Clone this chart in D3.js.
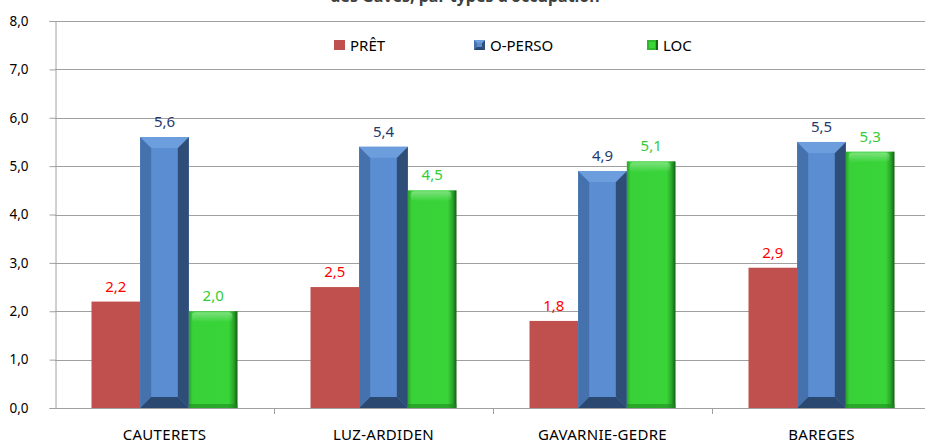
<!DOCTYPE html>
<html>
<head>
<meta charset="utf-8">
<script src="https://cdn.jsdelivr.net/npm/d3@7"></script>
<style>
  body { margin: 0; background: #fff; }
  text { font-family: "Noto Sans", "Open Sans", sans-serif; }
</style>
</head>
<body>
<script>
// data
var categories = ["CAUTERETS", "LUZ-ARDIDEN", "GAVARNIE-GEDRE", "BAREGES"];
var seriesNames = ["PRÊT", "O-PERSO", "LOC"];
var pret = [2.2, 2.5, 1.8, 2.9];
var operso = [5.6, 5.4, 4.9, 5.5];
var loc = [2.0, 4.5, 5.1, 5.3];
var yTicks = [0, 1, 2, 3, 4, 5, 6, 7, 8];

var width = 925,
    height = 444,
    x0 = 55,
    x1 = 931,
    yTop = 21,
    yBottom = 408;

var labelColors = { "PRÊT": "#ff0000", "O-PERSO": "#1f3a6e", "LOC": "#33cc33" };

var svg = d3.select("body").append("svg")
    .attr("width", width)
    .attr("height", height);

var defs = svg.append("defs");

// green bar shading
var gH = defs.append("linearGradient").attr("id", "greenH").attr("x1", 0).attr("x2", 1).attr("y1", 0).attr("y2", 0);
gH.append("stop").attr("offset", "0%").attr("stop-color", "#2aa32a");
gH.append("stop").attr("offset", "8%").attr("stop-color", "#38d238");
gH.append("stop").attr("offset", "82%").attr("stop-color", "#38d438");
gH.append("stop").attr("offset", "92%").attr("stop-color", "#2aa52a");
gH.append("stop").attr("offset", "100%").attr("stop-color", "#125e12");

var gV = defs.append("linearGradient").attr("id", "greenV").attr("x1", 0).attr("x2", 0).attr("y1", 0).attr("y2", 1);
gV.append("stop").attr("offset", "0%").attr("stop-color", "#ffffff").attr("stop-opacity", 0.35);
gV.append("stop").attr("offset", "100%").attr("stop-color", "#ffffff").attr("stop-opacity", 0);

var y = d3.scaleLinear().domain([0, 8]).range([yBottom, yTop]);

var x = d3.scaleBand().domain(categories).range([x0, x1]).padding(0);

var xs = d3.scaleBand().domain(seriesNames)
    .range([36.5, x.bandwidth() - 36.5]).padding(0);

// title (cut off at the top, as in the original)
svg.append("text")
    .attr("x", 465)
    .attr("y", 2)
    .attr("text-anchor", "middle")
    .style("font-weight", "bold")
    .style("font-size", "16px")
    .style("fill", "#404040")
    .text("des Gaves, par types d'occupation");

// gridlines
svg.append("g")
    .selectAll("line")
    .data(yTicks)
    .enter().append("line")
    .attr("x1", x0)
    .attr("x2", width)
    .attr("y1", function (d) { return Math.round(y(d)) + 0.5; })
    .attr("y2", function (d) { return Math.round(y(d)) + 0.5; })
    .style("stroke", "#a0a0a0")
    .style("stroke-width", 1);

// y axis
var yAxis = svg.append("g")
    .attr("transform", "translate(" + (x0 + 0.5) + ",0)")
    .call(d3.axisLeft(y).tickValues(yTicks).tickSize(6).tickPadding(21)
        .tickFormat(function (d) { return d3.format(".1f")(d).replace(".", ","); }));
yAxis.select(".domain").style("stroke", "#a0a0a0");
yAxis.selectAll(".tick line").style("stroke", "#a0a0a0");
yAxis.selectAll("text")
    .style("font-size", "13.5px")
    .style("fill", "#000")
    .style("font-family", "'Noto Sans', sans-serif");

// x axis
var xAxis = svg.append("g")
    .attr("transform", "translate(0," + (yBottom + 0.5) + ")")
    .call(d3.axisBottom(x).tickSize(0).tickPadding(21));
xAxis.select(".domain").remove();
xAxis.selectAll("text")
    .style("font-size", "15px")
    .style("letter-spacing", "0.3px")
    .style("fill", "#000")
    .style("font-family", "'Noto Sans', sans-serif");

// category separators
svg.append("g")
    .selectAll("line")
    .data(categories)
    .enter().append("line")
    .attr("x1", function (d) { return Math.round(x(d) + x.bandwidth()) + 0.5; })
    .attr("x2", function (d) { return Math.round(x(d) + x.bandwidth()) + 0.5; })
    .attr("y1", yBottom)
    .attr("y2", yBottom + 6)
    .style("stroke", "#a0a0a0");

var rows = [];
categories.forEach(function (c, i) {
    rows.push({ cat: c, series: "PRÊT", value: pret[i] });
    rows.push({ cat: c, series: "O-PERSO", value: operso[i] });
    rows.push({ cat: c, series: "LOC", value: loc[i] });
});

function drawBevel(g, bx, by, bw, bh, b) {
    var bb = Math.min(b, bh / 2);
    g.append("rect").attr("x", bx).attr("y", by).attr("width", bw).attr("height", bh)
        .style("fill", "#5b8dd2");
    // left strip
    g.append("polygon").attr("points", [[bx, by], [bx + b, by + bb], [bx + b, by + bh - bb], [bx, by + bh]].join(" "))
        .style("fill", "#4571ad");
    // right strip
    g.append("polygon").attr("points", [[bx + bw, by], [bx + bw - b, by + bb], [bx + bw - b, by + bh - bb], [bx + bw, by + bh]].join(" "))
        .style("fill", "#2f4e77");
    // top
    g.append("polygon").attr("points", [[bx, by], [bx + bw, by], [bx + bw - b, by + bb], [bx + b, by + bb]].join(" "))
        .style("fill", "#6c9ede");
    // bottom
    g.append("polygon").attr("points", [[bx, by + bh], [bx + bw, by + bh], [bx + bw - b, by + bh - bb], [bx + b, by + bh - bb]].join(" "))
        .style("fill", "#2b4870");
}

function drawGreen(g, bx, by, bw, bh) {
    g.append("rect").attr("x", bx).attr("y", by).attr("width", bw).attr("height", bh)
        .style("fill", "url(#greenH)");
    g.append("rect").attr("x", bx + 3).attr("y", by + 1).attr("width", bw - 8).attr("height", Math.min(10, bh / 3))
        .attr("rx", 4)
        .style("fill", "url(#greenV)");
    g.append("rect").attr("x", bx).attr("y", by + bh - 4).attr("width", bw).attr("height", 4)
        .style("fill", "#1f8a1f").style("opacity", 0.6);
}

var bars = svg.append("g");
rows.forEach(function (d) {
    var bx = x(d.cat) + xs(d.series),
        bw = xs.bandwidth(),
        by = y(d.value),
        bh = y(0) - y(d.value);
    var g = bars.append("g");
    if (d.series === "PRÊT") {
        g.append("rect").attr("x", bx).attr("y", by).attr("width", bw).attr("height", bh)
            .style("fill", "#c0504d");
    } else if (d.series === "O-PERSO") {
        drawBevel(g, bx, by, bw, bh, 11);
    } else {
        drawGreen(g, bx, by, bw, bh);
    }
    bars.append("text")
        .attr("x", bx + bw / 2)
        .attr("y", by - 10)
        .attr("text-anchor", "middle")
        .style("font-size", "15px")
        .style("fill", labelColors[d.series])
        .text(d3.format(".1f")(d.value).replace(".", ","));
});

// legend
var legendX = [334, 474, 647];
var legend = svg.append("g");
seriesNames.forEach(function (s, i) {
    var lg = legend.append("g").attr("transform", "translate(" + legendX[i] + ",40)");
    if (s === "PRÊT") {
        lg.append("rect").attr("width", 11).attr("height", 10).style("fill", "#c0504d");
    } else if (s === "O-PERSO") {
        drawBevel(lg, 0, 0, 11, 10, 3);
    } else {
        lg.append("rect").attr("width", 11).attr("height", 10).style("fill", "#2fb82f");
        lg.append("rect").attr("x", 2).attr("y", 2).attr("width", 6).attr("height", 6).style("fill", "#39d63a");
        lg.append("rect").attr("x", 9).attr("width", 2).attr("height", 10).style("fill", "#146614");
    }
    lg.append("text")
        .attr("x", 16)
        .attr("y", 10.5)
        .style("font-size", "15px")
        .style("fill", "#000")
        .text(s);
});
</script>
</body>
</html>
